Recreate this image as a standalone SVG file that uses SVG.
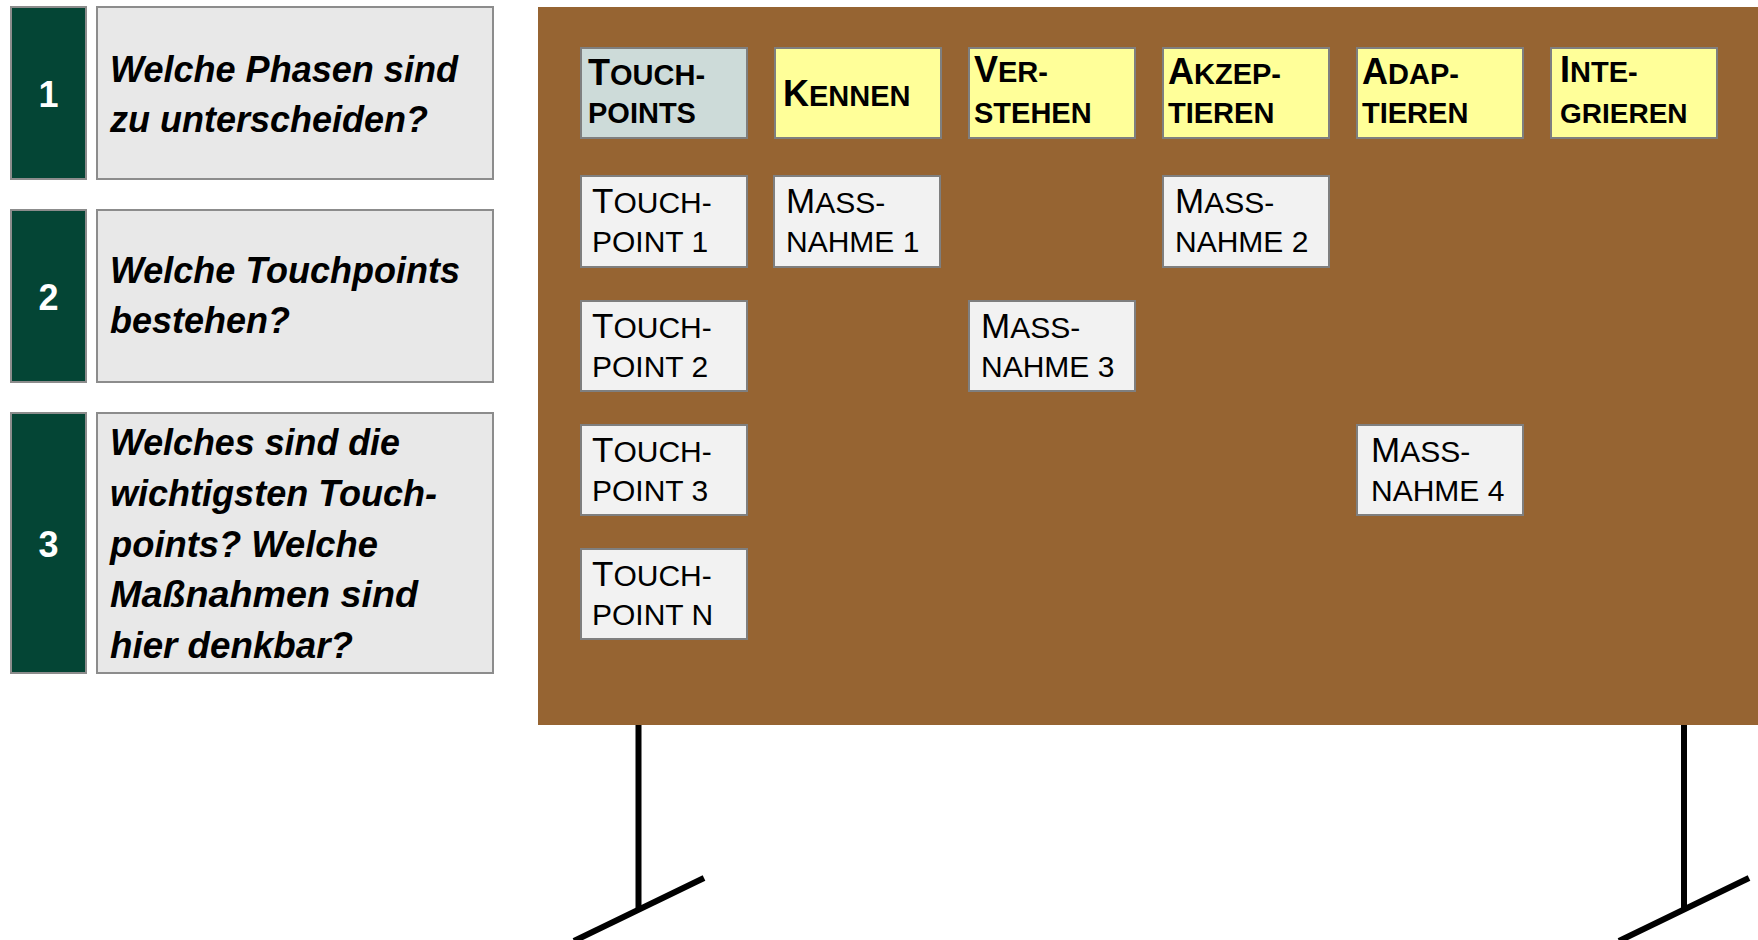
<svg xmlns="http://www.w3.org/2000/svg" width="1758" height="940" viewBox="0 0 1758 940">
<style>
.num{fill:#044535;stroke:#8c8c8c;stroke-width:2}
.q{fill:#e8e8e8;stroke:#8c8c8c;stroke-width:2}
.nt{font-family:"Liberation Sans",Arial,sans-serif;font-weight:bold;font-size:36px;fill:#ffffff;text-anchor:middle}
.qt{font-family:"Liberation Sans",Arial,sans-serif;font-weight:bold;font-style:italic;font-size:37px;fill:#000000}
.board{fill:#966432}
.card{stroke:#7f7f7f;stroke-width:2}
.hdr{fill:#ffff99}
.tph{fill:#cddbd9}
.wc{fill:#f2f2f2}
.ht{font-family:"Liberation Sans",Arial,sans-serif;font-weight:bold;fill:#000000}
.ct{font-family:"Liberation Sans",Arial,sans-serif;fill:#000000}
.B{font-size:36px}
.S{font-size:29px}
.S2{font-size:28px}
.b{font-size:35px}
.s{font-size:30px}
.leg{stroke:#000000;stroke-width:6;fill:none}
</style>

<g id="q1">
<rect class="num" x="11" y="7" width="75" height="172"/>
<text class="nt" x="48.5" y="107">1</text>
<rect class="q" x="97" y="7" width="396" height="172"/>
<text class="qt" x="110" y="82" textLength="348" lengthAdjust="spacingAndGlyphs">Welche Phasen sind</text>
<text class="qt" x="110" y="132" textLength="318" lengthAdjust="spacingAndGlyphs">zu unterscheiden?</text>
</g>
<g id="q2">
<rect class="num" x="11" y="210" width="75" height="172"/>
<text class="nt" x="48.5" y="310">2</text>
<rect class="q" x="97" y="210" width="396" height="172"/>
<text class="qt" x="110" y="283" textLength="350" lengthAdjust="spacingAndGlyphs">Welche Touchpoints</text>
<text class="qt" x="110" y="333" textLength="180" lengthAdjust="spacingAndGlyphs">bestehen?</text>
</g>
<g id="q3">
<rect class="num" x="11" y="413" width="75" height="260"/>
<text class="nt" x="48.5" y="557">3</text>
<rect class="q" x="97" y="413" width="396" height="260"/>
<text class="qt" x="110" y="455" textLength="290" lengthAdjust="spacingAndGlyphs">Welches sind die</text>
<text class="qt" x="110" y="506" textLength="327" lengthAdjust="spacingAndGlyphs">wichtigsten Touch-</text>
<text class="qt" x="110" y="557" textLength="268" lengthAdjust="spacingAndGlyphs">points? Welche</text>
<text class="qt" x="110" y="607" textLength="308" lengthAdjust="spacingAndGlyphs">Maßnahmen sind</text>
<text class="qt" x="110" y="658" textLength="243" lengthAdjust="spacingAndGlyphs">hier denkbar?</text>
</g>

<g id="stand">
<line class="leg" x1="638.5" y1="724" x2="638.5" y2="910"/>
<line class="leg" x1="574" y1="941" x2="704" y2="878"/>
<line class="leg" x1="1684" y1="724" x2="1684" y2="910"/>
<line class="leg" x1="1619" y1="941" x2="1749" y2="878"/>
</g>
<g id="board">
<rect class="board" x="538" y="7" width="1220" height="718"/>
</g>

<g id="h-touchpoints">
<rect class="card tph" x="581" y="48" width="166" height="90"/>
<text class="ht" x="588" y="85"><tspan class="B">T</tspan><tspan class="S">OUCH-</tspan></text>
<text class="ht S" x="588" y="123">POINTS</text>
</g>
<g id="h-kennen">
<rect class="card hdr" x="775" y="48" width="166" height="90"/>
<text class="ht" x="783" y="106"><tspan class="B">K</tspan><tspan class="S">ENNEN</tspan></text>
</g>
<g id="h-verstehen">
<rect class="card hdr" x="969" y="48" width="166" height="90"/>
<text class="ht" x="974" y="82"><tspan class="B">V</tspan><tspan class="S">ER-</tspan></text>
<text class="ht S" x="974" y="123">STEHEN</text>
</g>
<g id="h-akzeptieren">
<rect class="card hdr" x="1163" y="48" width="166" height="90"/>
<text class="ht" x="1168" y="84"><tspan class="B">A</tspan><tspan class="S">KZEP-</tspan></text>
<text class="ht S" x="1168" y="123">TIEREN</text>
</g>
<g id="h-adaptieren">
<rect class="card hdr" x="1357" y="48" width="166" height="90"/>
<text class="ht" x="1362" y="84"><tspan class="B">A</tspan><tspan class="S">DAP-</tspan></text>
<text class="ht S" x="1362" y="123">TIEREN</text>
</g>
<g id="h-integrieren">
<rect class="card hdr" x="1551" y="48" width="166" height="90"/>
<text class="ht" x="1560" y="82"><tspan class="B">I</tspan><tspan class="S">NTE-</tspan></text>
<text class="ht S2" x="1560" y="123">GRIEREN</text>
</g>

<g id="tp1">
<rect class="card wc" x="581" y="176" width="166" height="91"/>
<text class="ct" x="592" y="213"><tspan class="b">T</tspan><tspan class="s">OUCH-</tspan></text>
<text class="ct s" x="592" y="252">POINT 1</text>
</g>
<g id="m1">
<rect class="card wc" x="774" y="176" width="166" height="91"/>
<text class="ct" x="786" y="213"><tspan class="b">M</tspan><tspan class="s">ASS-</tspan></text>
<text class="ct s" x="786" y="252">NAHME 1</text>
</g>
<g id="m2">
<rect class="card wc" x="1163" y="176" width="166" height="91"/>
<text class="ct" x="1175" y="213"><tspan class="b">M</tspan><tspan class="s">ASS-</tspan></text>
<text class="ct s" x="1175" y="252">NAHME 2</text>
</g>
<g id="tp2">
<rect class="card wc" x="581" y="301" width="166" height="90"/>
<text class="ct" x="592" y="338"><tspan class="b">T</tspan><tspan class="s">OUCH-</tspan></text>
<text class="ct s" x="592" y="377">POINT 2</text>
</g>
<g id="m3">
<rect class="card wc" x="969" y="301" width="166" height="90"/>
<text class="ct" x="981" y="338"><tspan class="b">M</tspan><tspan class="s">ASS-</tspan></text>
<text class="ct s" x="981" y="377">NAHME 3</text>
</g>
<g id="tp3">
<rect class="card wc" x="581" y="425" width="166" height="90"/>
<text class="ct" x="592" y="462"><tspan class="b">T</tspan><tspan class="s">OUCH-</tspan></text>
<text class="ct s" x="592" y="501">POINT 3</text>
</g>
<g id="m4">
<rect class="card wc" x="1357" y="425" width="166" height="90"/>
<text class="ct" x="1371" y="462"><tspan class="b">M</tspan><tspan class="s">ASS-</tspan></text>
<text class="ct s" x="1371" y="501">NAHME 4</text>
</g>
<g id="tpn">
<rect class="card wc" x="581" y="549" width="166" height="90"/>
<text class="ct" x="592" y="586"><tspan class="b">T</tspan><tspan class="s">OUCH-</tspan></text>
<text class="ct s" x="592" y="625">POINT N</text>
</g>
</svg>
